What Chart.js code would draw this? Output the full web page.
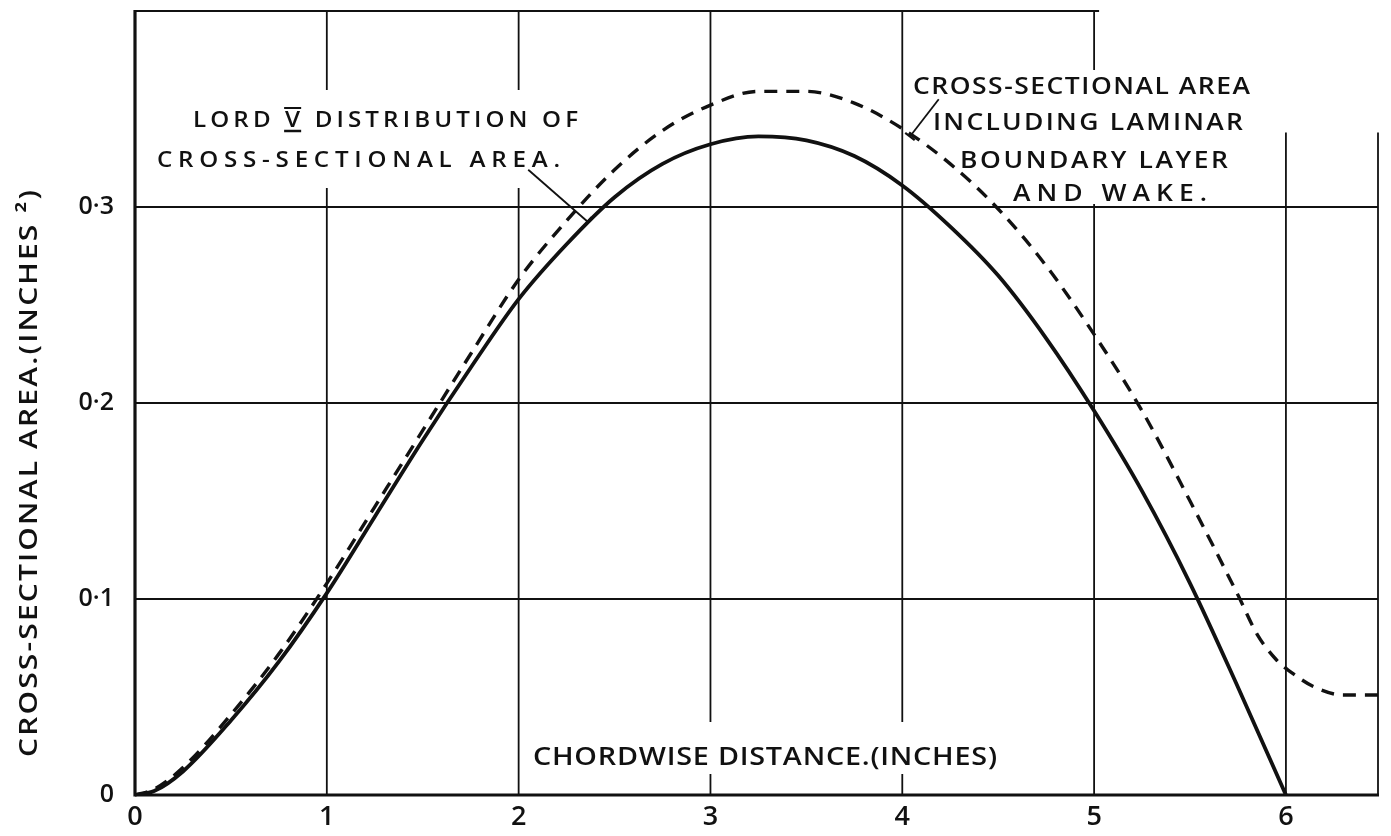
<!DOCTYPE html>
<html>
<head>
<meta charset="utf-8">
<script src="https://cdn.jsdelivr.net/npm/chart.js@4.4.1/dist/chart.umd.min.js"></script>
<style>
    html, body { margin: 0; padding: 0; background: #fff; }
    #wrap { width: 1391px; height: 836px; position: relative; }
</style>
</head>
<body>
<div id="wrap"><canvas id="c"></canvas></div>
<script>
// Lord V area distribution vs. area incl. laminar boundary layer & wake
const xTicks = [0, 1, 2, 3, 4, 5, 6];
const yTicks = [0, 0.1, 0.2, 0.3];

const lordX = [0, 0.1, 0.25, 0.5, 0.75, 1, 1.25, 1.5, 1.75, 2, 2.25, 2.5, 2.75, 3, 3.25, 3.5, 3.75, 4, 4.25, 4.5, 4.75, 5, 5.25, 5.5, 5.75, 6];
const lordY = [0, 0.002, 0.012, 0.038, 0.068, 0.103, 0.142, 0.181, 0.218, 0.253, 0.281, 0.305, 0.322, 0.332, 0.336, 0.334, 0.326, 0.311, 0.290, 0.265, 0.233, 0.196, 0.155, 0.108, 0.055, 0];

const wakeX = [0, 0.1, 0.25, 0.5, 0.75, 1, 1.25, 1.5, 1.75, 2, 2.25, 2.5, 2.75, 3, 3.25, 3.5, 3.75, 4, 4.25, 4.5, 4.75, 5, 5.25, 5.5, 5.75, 5.85, 5.95, 6.05, 6.15, 6.3, 6.48];
const wakeY = [0, 0.003, 0.014, 0.041, 0.072, 0.108, 0.147, 0.186, 0.225, 0.263, 0.293, 0.319, 0.339, 0.352, 0.359, 0.359, 0.353, 0.340, 0.322, 0.299, 0.270, 0.235, 0.196, 0.150, 0.102, 0.082, 0.069, 0.061, 0.055, 0.051, 0.051];

const X_MAX = 6.48;
const Y_MAX = 0.4;
const INK = '#111';
const FONT = '"Open Sans", "DejaVu Sans", sans-serif';

// draw text spread out to a given width, letters a bit wider (hand lettering)
function spaced(ctx, text, x, y, width, k = 1.15) {
    const chars = [...text];
    const widths = chars.map(ch => ctx.measureText(ch).width * k);
    const total = widths.reduce((a, b) => a + b, 0);
    const extra = chars.length > 1 ? (width - total) / (chars.length - 1) : 0;
    const pos = [];
    let cx = x;
    chars.forEach((ch, i) => {
        pos.push(cx);
        ctx.save();
        ctx.translate(cx, y);
        ctx.scale(k, 1);
        ctx.fillText(ch, 0, 0);
        ctx.restore();
        cx += widths[i] + extra;
    });
    return pos;
}

function seg(ctx, x1, y1, x2, y2, w) {
    ctx.lineWidth = w;
    ctx.beginPath();
    ctx.moveTo(x1, y1);
    ctx.lineTo(x2, y2);
    ctx.stroke();
}

const paper = {
    id: 'paper',
    beforeDatasetsDraw(chart) {
        const { ctx } = chart;
        const xs = chart.scales.x, ys = chart.scales.y;
        const px = v => xs.getPixelForValue(v);
        const py = v => ys.getPixelForValue(v);
        ctx.save();
        ctx.strokeStyle = INK;
        ctx.lineCap = 'butt';

        // grid
        [0.1, 0.2, 0.3].forEach(v => seg(ctx, px(0), py(v), px(X_MAX), py(v), 1.8));
        [1, 2, 3, 4, 5].forEach(v => seg(ctx, px(v), py(0), px(v), py(Y_MAX), 1.8));
        [6, X_MAX].forEach(v => seg(ctx, px(v), py(0), px(v), py(0.338), 1.8));
        seg(ctx, px(0), py(Y_MAX), px(5) + 5, py(Y_MAX), 2.2);
        // axes
        seg(ctx, px(0), py(0) + 1.5, px(0), py(Y_MAX) - 1, 3.2);
        seg(ctx, px(0), py(0), px(X_MAX) + 1, py(0), 3.2);

        // white patches behind the lettering (grid breaks there)
        ctx.fillStyle = '#fff';
        ctx.fillRect(150, 90, 440, 98);
        ctx.fillRect(907, 70, 350, 134);
        ctx.fillRect(528, 722, 475, 52);

        ctx.fillStyle = INK;
        ctx.textBaseline = 'alphabetic';
        ctx.textAlign = 'left';

        // left note
        ctx.font = '600 21px ' + FONT;
        const pos = spaced(ctx, 'LORD V DISTRIBUTION OF', 193, 127, 385);
        const vx = pos[5], vw = ctx.measureText('V').width * 1.15;
        seg(ctx, vx - 1, 108, vx + vw + 1, 108, 2);
        seg(ctx, vx - 1, 131, vx + vw + 1, 131, 2.5);
        spaced(ctx, 'CROSS-SECTIONAL AREA.', 157, 167, 403);

        // right note
        ctx.font = '600 23px ' + FONT;
        spaced(ctx, 'CROSS-SECTIONAL AREA', 913, 94, 337);
        spaced(ctx, 'INCLUDING LAMINAR', 933, 130, 310);
        spaced(ctx, 'BOUNDARY LAYER', 960, 168, 268);
        spaced(ctx, 'AND WAKE.', 1013, 201, 194);

        // axis titles
        ctx.font = '600 25px ' + FONT;
        spaced(ctx, 'CHORDWISE DISTANCE.(INCHES)', 533, 765, 464);

        ctx.save();
        ctx.translate(37, 757);
        ctx.rotate(-Math.PI / 2);
        ctx.font = '600 26px ' + FONT;
        spaced(ctx, 'CROSS-SECTIONAL AREA.(INCHES ²)', 0, 0, 567);
        ctx.restore();

        ctx.restore();
    },
    afterDatasetsDraw(chart) {
        const { ctx } = chart;
        const xs = chart.scales.x, ys = chart.scales.y;
        const px = v => xs.getPixelForValue(v);
        const py = v => ys.getPixelForValue(v);
        ctx.save();
        ctx.strokeStyle = INK;
        // leader lines from the notes to the curves
        const leaders = [[2.05, 0.319, 2.36, 0.2925], [4.19, 0.355, 4.04, 0.336]];
        leaders.forEach(([a, b, c, d]) => {
            const x1 = px(a), y1 = py(b), x2 = px(c), y2 = py(d);
            seg(ctx, x1, y1, x2, y2, 1.8);
            const len = Math.hypot(x2 - x1, y2 - y1);
            const nx = -(y2 - y1) / len * 6, ny = (x2 - x1) / len * 6;
            seg(ctx, x2 - nx, y2 - ny, x2 + nx, y2 + ny, 2.2);
        });
        ctx.restore();
    }
};

new Chart(document.getElementById('c'), {
    type: 'line',
    data: {
        datasets: [
            {
                label: 'Lord V distribution',
                data: lordX.map((x, i) => ({ x, y: lordY[i] })),
                borderColor: INK,
                borderWidth: 3.8,
                fill: false,
                pointRadius: 0,
                cubicInterpolationMode: 'monotone'
            },
            {
                label: 'Incl. boundary layer and wake',
                data: wakeX.map((x, i) => ({ x, y: wakeY[i] })),
                borderColor: INK,
                borderWidth: 3.4,
                borderDash: [13, 9],
                fill: false,
                pointRadius: 0,
                cubicInterpolationMode: 'monotone'
            }
        ]
    },
    options: {
        responsive: true,
        maintainAspectRatio: false,
        animation: false,
        events: [],
        layout: { padding: { top: 11, right: 13, left: 0, bottom: 0 } },
        plugins: {
            legend: { display: false },
            tooltip: { enabled: false }
        },
        scales: {
            x: {
                type: 'linear',
                min: 0,
                max: X_MAX,
                grid: { display: false, drawTicks: false },
                border: { display: false },
                afterBuildTicks: s => { s.ticks = xTicks.map(v => ({ value: v })); },
                afterFit: s => { s.height = 41; s.paddingLeft = 0; s.paddingRight = 0; },
                ticks: {
                    color: INK,
                    padding: 6,
                    maxRotation: 0,
                    font: { family: FONT, size: 27, weight: '600' },
                    callback: v => String(v)
                }
            },
            y: {
                min: 0,
                max: Y_MAX,
                grid: { display: false, drawTicks: false },
                border: { display: false },
                afterBuildTicks: s => { s.ticks = yTicks.map(v => ({ value: v })); },
                afterFit: s => { s.width = 135; s.paddingTop = 0; s.paddingBottom = 0; },
                ticks: {
                    color: INK,
                    padding: 21,
                    font: { family: FONT, size: 25, weight: '600' },
                    callback: v => String(v).replace('.', '·')
                }
            }
        }
    },
    plugins: [paper]
});
</script>
</body>
</html>
